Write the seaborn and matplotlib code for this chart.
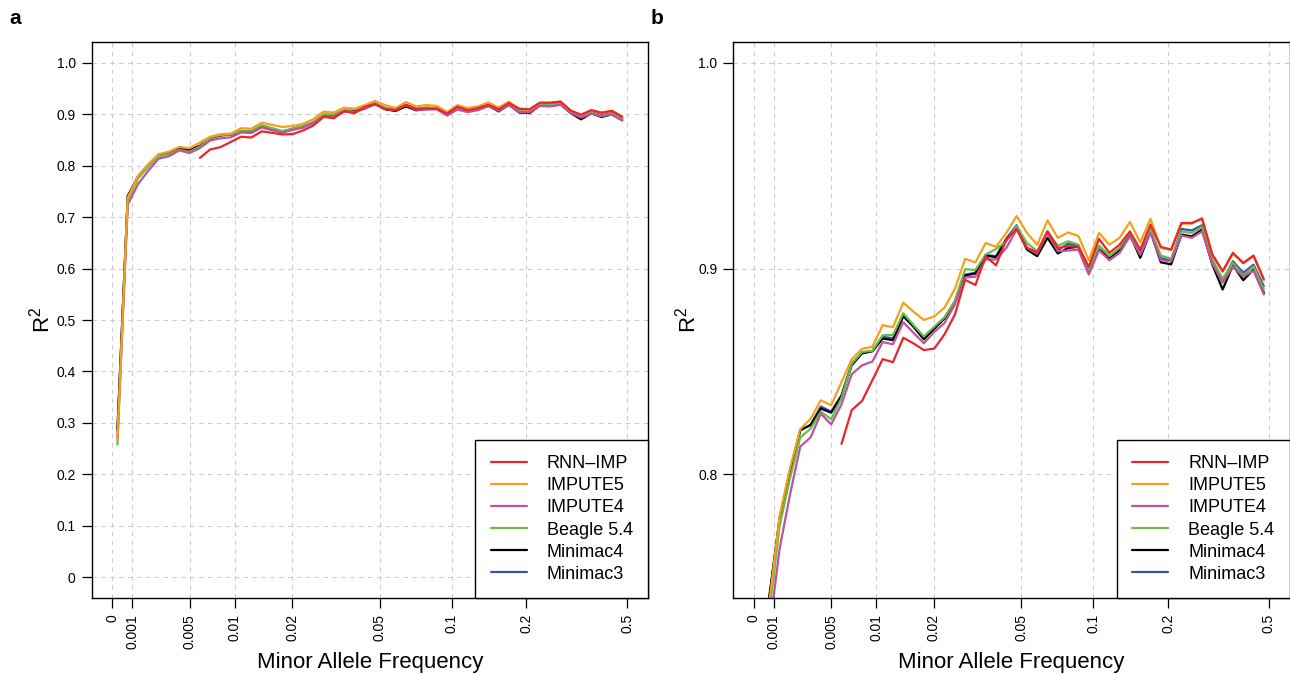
import numpy as np
import matplotlib
matplotlib.use("Agg")
import matplotlib.pyplot as plt
import seaborn as sns
from matplotlib.lines import Line2D

nan = np.nan

# MAF of each bin centre
maf = [0.000085, 0.000503, 0.001176, 0.001571, 0.002098, 0.002802, 0.003742, 0.005,
       0.005853, 0.006852, 0.00802, 0.009389, 0.01078, 0.01221, 0.01384, 0.01568,
       0.01776, 0.02011, 0.02239, 0.02495, 0.02779, 0.03095, 0.03447, 0.0384,
       0.04277, 0.04764, 0.05281, 0.05831, 0.06437, 0.07107, 0.07847, 0.08664,
       0.09566, 0.1054, 0.116, 0.1276, 0.1404, 0.1545, 0.17, 0.1871,
       0.2057, 0.2259, 0.248, 0.2723, 0.299, 0.3283, 0.3604, 0.3958, 0.4345, 0.4772]

impute5 = [0.268, 0.738, 0.780, 0.803, 0.822, 0.827, 0.836, 0.8336, 0.8448, 0.856,
           0.861, 0.862, 0.8725, 0.8715, 0.8834, 0.879, 0.875, 0.8767, 0.881, 0.890,
           0.9047, 0.903, 0.9124, 0.9105, 0.9173, 0.9255, 0.9173, 0.9115, 0.9234, 0.9149,
           0.9175, 0.9158, 0.904, 0.9173, 0.9116, 0.9149, 0.9226, 0.9127, 0.9241, 0.910,
           0.909, 0.9218, 0.9218, 0.9246, 0.9065, 0.8985, 0.9073, 0.9025, 0.906, 0.8945]
minimac4 = [0.285, 0.741, 0.7785, 0.801, 0.8215, 0.824, 0.832, 0.830, 0.838, 0.853,
            0.8588, 0.8598, 0.866, 0.8652, 0.8768, 0.8717, 0.8656, 0.8708, 0.8757, 0.8834,
            0.8967, 0.8975, 0.9063, 0.9055, 0.914, 0.9197, 0.9092, 0.906, 0.9149, 0.9073,
            0.910, 0.9105, 0.9003, 0.9092, 0.9052, 0.9089, 0.9165, 0.9052, 0.918, 0.903,
            0.902, 0.9165, 0.9156, 0.9189, 0.9019, 0.8898, 0.9015, 0.8943, 0.8995, 0.8882]
minimac3 = [0.290, 0.740, 0.779, 0.801, 0.8215, 0.824, 0.833, 0.8305, 0.8385, 0.854,
            0.859, 0.860, 0.867, 0.866, 0.8775, 0.872, 0.866, 0.871, 0.876, 0.884,
            0.897, 0.898, 0.9065, 0.906, 0.9145, 0.921, 0.910, 0.907, 0.918, 0.909,
            0.912, 0.911, 0.899, 0.911, 0.906, 0.909, 0.917, 0.908, 0.919, 0.905,
            0.904, 0.9192, 0.9185, 0.921, 0.903, 0.894, 0.9035, 0.8979, 0.9019, 0.8914]
beagle54 = [0.258, 0.733, 0.775, 0.798, 0.818, 0.8222, 0.8305, 0.8268, 0.837, 0.8537,
            0.8595, 0.860, 0.8676, 0.8677, 0.8783, 0.8725, 0.867, 0.8717, 0.8763, 0.8842,
            0.8997, 0.8993, 0.9068, 0.9095, 0.9132, 0.9205, 0.9124, 0.9083, 0.918, 0.9111,
            0.9132, 0.9116, 0.8995, 0.9111, 0.906, 0.910, 0.9176, 0.9068, 0.9189, 0.9063,
            0.9047, 0.918, 0.9173, 0.9202, 0.9044, 0.895, 0.9027, 0.8966, 0.9011, 0.8898]
impute4 = [0.270, 0.724, 0.764, 0.790, 0.8135, 0.818, 0.8295, 0.8243, 0.834, 0.8487,
           0.853, 0.8548, 0.8643, 0.8632, 0.8739, 0.8687, 0.8637, 0.8692, 0.8735, 0.8824,
           0.8957, 0.896, 0.9044, 0.9044, 0.910, 0.9189, 0.910, 0.9072, 0.9173, 0.9084,
           0.9087, 0.9092, 0.8971, 0.9089, 0.904, 0.9076, 0.9156, 0.9068, 0.9173, 0.904,
           0.9035, 0.916, 0.9149, 0.918, 0.9024, 0.8931, 0.9008, 0.896, 0.899, 0.8874]
rnn_imp = [nan, nan, nan, nan, nan, nan, nan, nan, 0.8148, 0.8313,
           0.8357, 0.8458, 0.856, 0.8545, 0.8664, 0.8636, 0.8604, 0.8611, 0.868, 0.8775,
           0.8945, 0.892, 0.906, 0.9015, 0.914, 0.9192, 0.910, 0.908, 0.918, 0.910,
           0.9108, 0.9105, 0.9008, 0.9144, 0.9076, 0.9116, 0.918, 0.9092, 0.9213, 0.9105,
           0.9092, 0.9221, 0.9221, 0.9241, 0.9068, 0.8987, 0.9076, 0.9027, 0.9063, 0.8947]

legend_names = ["RNN\u2013IMP", "IMPUTE5", "IMPUTE4", "Beagle 5.4", "Minimac4", "Minimac3"]
colors = {"RNN\u2013IMP": "#E8262A", "IMPUTE5": "#F5A01A", "IMPUTE4": "#C0529F",
          "Beagle 5.4": "#63BE4A", "Minimac4": "#000000", "Minimac3": "#3C4FAF"}
series = {"RNN\u2013IMP": rnn_imp, "IMPUTE5": impute5, "IMPUTE4": impute4,
          "Beagle 5.4": beagle54, "Minimac4": minimac4, "Minimac3": minimac3}
draw_order = ["Minimac3", "Minimac4", "Beagle 5.4", "IMPUTE4", "IMPUTE5", "RNN\u2013IMP"]

tick_maf = [0, 0.001, 0.005, 0.01, 0.02, 0.05, 0.1, 0.2, 0.5]
tick_labels = ["0", "0.001", "0.005", "0.01", "0.02", "0.05", "0.1", "0.2", "0.5"]

# ---- custom MAF scale (bin-based axis) ----
TM = np.array(tick_maf, dtype=float)
TP = np.array([0, 1.94, 7.5, 11.9, 17.45, 25.95, 32.95, 40.2, 50.0])
S = 1e-4
G = np.arcsinh(TM / S)
s_lo = (TP[1] - TP[0]) / (G[1] - G[0])
s_hi = (TP[-1] - TP[-2]) / (G[-1] - G[-2])


def fwd(x):
    u = np.arcsinh(np.asarray(x, dtype=float) / S)
    f = np.interp(u, G, TP)
    f = np.where(u < G[0], TP[0] + (u - G[0]) * s_lo, f)
    f = np.where(u > G[-1], TP[-1] + (u - G[-1]) * s_hi, f)
    return f


def inv(f):
    f = np.asarray(f, dtype=float)
    u = np.interp(f, TP, G)
    u = np.where(f < TP[0], G[0] + (f - TP[0]) / s_lo, u)
    u = np.where(f > TP[-1], G[-1] + (f - TP[-1]) / s_hi, u)
    return np.sinh(u) * S


sns.set_style("ticks")
plt.rcParams['font.family'] = ['Liberation Sans', 'DejaVu Sans']
plt.rcParams['mathtext.fontset'] = 'custom'
plt.rcParams['mathtext.rm'] = 'Liberation Sans'
plt.rcParams['mathtext.it'] = 'Liberation Sans:italic'
plt.rcParams['text.color'] = 'black'
plt.rcParams['axes.labelcolor'] = 'black'
plt.rcParams['xtick.color'] = 'black'
plt.rcParams['ytick.color'] = 'black'

W, H = 1290, 674
fig = plt.figure(figsize=(W / 100, H / 100), dpi=100)
ax_w = 556.3 / W
ax_h = (598 - 42) / H
ax_b = 1 - 598 / H
axA = fig.add_axes([91.7 / W, ax_b, ax_w, ax_h])
axB = fig.add_axes([733.3 / W, ax_b, ax_w, ax_h])

for ax, ylim, yt, ytl, ylx in [
    (axA, (-0.04, 1.04), [i / 10 for i in range(11)],
     ["0"] + [f"{i/10:.1f}" for i in range(1, 11)], -0.067),
    (axB, (0.74, 1.01), [0.8, 0.9, 1.0], ["0.8", "0.9", "1.0"], -0.059),
]:
    ax.set_xscale('function', functions=(fwd, inv))
    for name in draw_order:
        sns.lineplot(x=maf, y=series[name], ax=ax, color=colors[name],
                     linewidth=1.6, estimator=None, sort=False, legend=False)
    ax.set_xlim(float(inv(-2.0)), float(inv(52.0)))
    ax.set_ylim(*ylim)
    ax.set_xticks(tick_maf)
    ax.set_xticklabels(tick_labels, rotation=90, va='top', ha='center')
    ax.set_yticks(yt)
    ax.set_yticklabels(ytl)
    ax.minorticks_off()
    ax.grid(True, color='#cccccc', linestyle=(0, (4, 4)), linewidth=0.8)
    ax.set_axisbelow(True)
    for sp in ax.spines.values():
        sp.set_color('black')
        sp.set_linewidth(1.0)
        sp.set_visible(True)
    ax.tick_params(length=7.5, width=0.9, color='black', labelsize=10,
                   labelcolor='black', pad=4)
    ax.set_xlabel("Minor Allele Frequency", fontsize=16, color='black')
    ax.xaxis.set_label_coords(0.5, -0.097)
    ax.set_ylabel(r"$\mathregular{R^2}$", fontsize=16, color='black')
    ax.yaxis.set_label_coords(ylx, 0.5)
    handles = [Line2D([], [], color=colors[n], linewidth=1.6) for n in legend_names]
    leg = ax.legend(handles, legend_names, loc='lower right', frameon=True,
                    fancybox=False, edgecolor='black', framealpha=1,
                    borderaxespad=0, fontsize=13, handlelength=2.0,
                    handletextpad=1.1, labelspacing=0.28, borderpad=0.85)
    leg.get_frame().set_linewidth(1.0)
    for t in leg.get_texts():
        t.set_color('black')

fig.text(15 / W, 1 - 18 / H, "a", fontsize=15, fontweight='bold', ha='center',
         va='center', color='black')
fig.text(657 / W, 1 - 18 / H, "b", fontsize=15, fontweight='bold', ha='center',
         va='center', color='black')

fig.savefig("out.png", dpi=100)
